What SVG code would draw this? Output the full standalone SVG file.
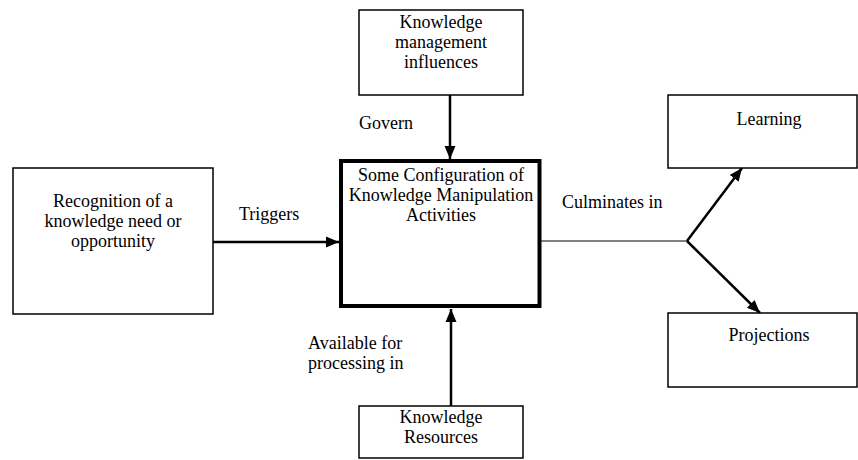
<svg xmlns="http://www.w3.org/2000/svg" width="858" height="460" viewBox="0 0 858 460">
<style>
text{font-family:"Liberation Serif","Times New Roman",serif;font-size:18px;fill:#000}
.c{text-anchor:middle}
.box{fill:#fff;stroke:#000;stroke-width:1.5}
.main{fill:#fff;stroke:#000;stroke-width:4}
.ln{stroke:#000;stroke-width:2.5;fill:none}
.thin{stroke:#000;stroke-width:1.2;fill:none}
</style>
<defs>
<marker id="ah" markerUnits="userSpaceOnUse" markerWidth="14" markerHeight="14" viewBox="0 0 14 14" refX="13" refY="7" orient="auto">
<path d="M0,1.5 L13,7 L0,12.5 Z" fill="#000"/>
</marker>
</defs>
<g id="connectors">
<line class="ln" x1="450" y1="95" x2="450" y2="159" marker-end="url(#ah)"/>
<line class="ln" x1="213" y1="242" x2="339" y2="242" marker-end="url(#ah)"/>
<line class="ln" x1="451" y1="406" x2="451" y2="309" marker-end="url(#ah)"/>
<line class="thin" x1="535" y1="241" x2="687" y2="241"/>
<line class="ln" x1="687" y1="241" x2="742" y2="168" marker-end="url(#ah)"/>
<line class="ln" x1="687" y1="241" x2="760" y2="313" marker-end="url(#ah)"/>
<text x="359" y="129">Govern</text>
<text x="239" y="220">Triggers</text>
<text x="562" y="208">Culminates in</text>
<text x="308" y="349">Available for</text>
<text x="308" y="369">processing in</text>
</g>
<g id="km-influences">
<rect class="box" x="359" y="10" width="164" height="85"/>
<text class="c" x="441" y="28">Knowledge</text>
<text class="c" x="441" y="48">management</text>
<text class="c" x="441" y="68">influences</text>
</g>
<g id="recognition">
<rect class="box" x="13" y="168" width="200" height="146"/>
<text class="c" x="113" y="207">Recognition of a</text>
<text class="c" x="113" y="227">knowledge need or</text>
<text class="c" x="113" y="247">opportunity</text>
</g>
<g id="main">
<rect class="main" x="341" y="161" width="198.5" height="145"/>
<text class="c" x="441" y="181">Some Configuration of</text>
<text class="c" x="441" y="201">Knowledge Manipulation</text>
<text class="c" x="441" y="221">Activities</text>
</g>
<g id="learning">
<rect class="box" x="668" y="95" width="189" height="73"/>
<text class="c" x="769" y="125">Learning</text>
</g>
<g id="projections">
<rect class="box" x="668" y="313" width="189" height="74"/>
<text class="c" x="769" y="341">Projections</text>
</g>
<g id="resources">
<rect class="box" x="359" y="406" width="164" height="52"/>
<text class="c" x="441" y="423">Knowledge</text>
<text class="c" x="441" y="443">Resources</text>
</g>
</svg>
